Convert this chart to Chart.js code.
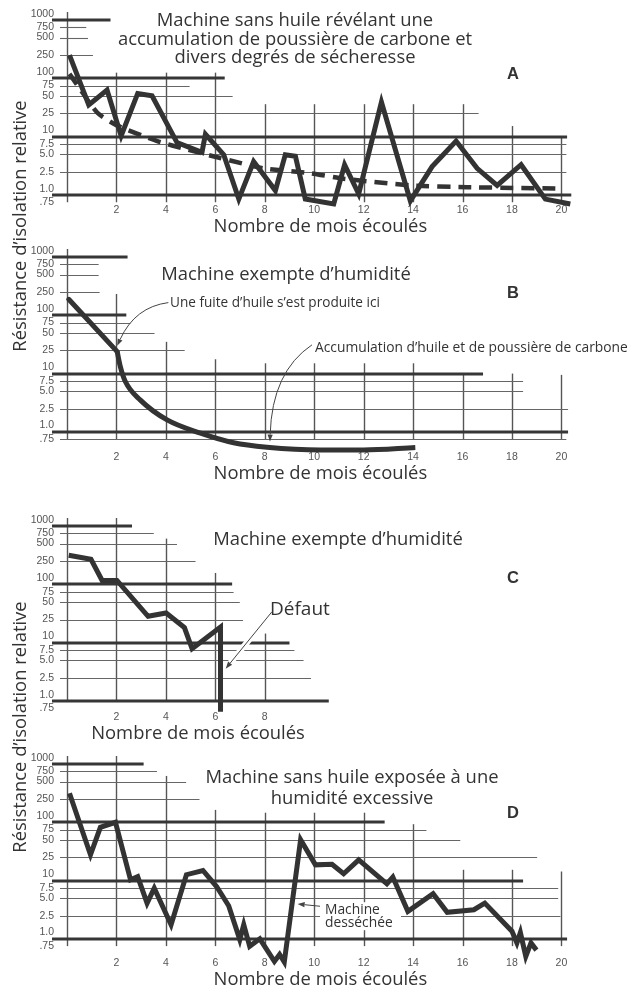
<!DOCTYPE html>
<html lang="fr">
<head>
<meta charset="utf-8">
<title>Résistance d'isolation relative</title>
<script src="https://cdn.jsdelivr.net/npm/chart.js@4.4.1/dist/chart.umd.min.js"></script>
<style>
  body { margin: 0; background: #fff; }
  #page { position: relative; width: 632px; height: 992px; overflow: hidden;
          font-family: "Open Sans", "Noto Sans", sans-serif; color: #333; }
  #page canvas { position: absolute; left: 0; }
  .lbl { position: absolute; white-space: nowrap; transform: translate(-50%, -50%); text-align: center; }
  .note { position: absolute; white-space: nowrap; transform: translate(0, -50%); }
  .letter { position: absolute; transform: translate(-50%, -50%);
            font-family: "Liberation Sans", Arial, sans-serif; font-weight: bold; font-size: 16.5px; }
  .ytitle { position: absolute; white-space: nowrap; font-size: 18.4px;
            transform: translate(-50%, -50%) rotate(-90deg); }
</style>
</head>
<body>
<div id="page">
  <canvas id="chartA"></canvas>
  <canvas id="chartB"></canvas>
  <canvas id="chartC"></canvas>
  <canvas id="chartD"></canvas>

  <div class="ytitle" style="left:18px;top:226px">Résistance d’isolation relative</div>
  <div class="ytitle" style="left:18px;top:727px">Résistance d’isolation relative</div>

  <div class="lbl" style="left:295px;top:38px;font-size:18.4px;line-height:18.5px">Machine sans huile révélant une<br>accumulation de poussière de carbone et<br>divers degrés de sécheresse</div>
  <div class="letter" style="left:513px;top:73px">A</div>

  <div class="lbl" style="left:286px;top:272px;font-size:18.4px">Machine exempte d’humidité</div>
  <div class="letter" style="left:513px;top:292px">B</div>
  <div class="note" style="left:170px;top:301px;font-size:13.6px">Une fuite d’huile s’est produite ici</div>
  <div class="note" style="left:315px;top:346px;font-size:13.8px">Accumulation d’huile et de poussière de carbone</div>

  <div class="lbl" style="left:338px;top:537px;font-size:18.4px">Machine exempte d’humidité</div>
  <div class="letter" style="left:513px;top:577px">C</div>
  <div class="note" style="left:270px;top:608px;font-size:19px">Défaut</div>

  <div class="lbl" style="left:352px;top:786px;font-size:18.4px;line-height:20.5px">Machine sans huile exposée à une<br>humidité excessive</div>
  <div class="letter" style="left:513px;top:812px">D</div>
  <div class="note" style="left:320px;top:916px;font-size:13.8px;line-height:12.8px;background:#fff;padding:1px 8px 1px 5px">Machine<br>desséchée</div>
</div>

<script>
// shared axes
var yTicks = [1000, 750, 500, 250, 100, 75, 50, 25, 10, 7.5, 5, 2.5, 1, 0.75];
var yTickLabels = ['1000', '750', '500', '250', '100', '75', '50', '25', '10', '7.5', '5.0', '2.5', '1.0', '.75'];
var heavyTicks = [1000, 100, 10, 1];
var xTicksLong = [2, 4, 6, 8, 10, 12, 14, 16, 18, 20];
var xTicksShort = [2, 4, 6, 8];
var xAxisTitle = 'Nombre de mois écoulés';

// A - machine sans huile, poussiere de carbone
var monthsA = [0.1, 0.88, 1.62, 2.19, 2.86, 3.44, 4.45, 5.46, 5.6, 6.34, 6.95, 7.55, 8.43, 8.83, 9.24, 9.64,
               10.79, 11.23, 11.8, 12.72, 13.89, 14.77, 15.74, 16.59, 17.4, 18.37, 19.35, 20.36];
var resistA = [250, 35, 63, 10.3, 55, 50, 7.9, 5.4, 11, 4.9, 0.85, 3.75, 1.19, 4.9, 4.6, 0.85,
               0.7, 3.3, 1.04, 39, 0.79, 3.06, 8.4, 2.86, 1.46, 3.3, 0.85, 0.7];
var trendMonthsA = [0.1, 1.22, 2.02, 3.65, 4.86, 6.2, 7.96, 9.85, 11.19, 13.89, 16.18, 19.96];
var trendA = [119, 26, 15.6, 8.4, 6.0, 4.3, 2.86, 2.36, 1.9, 1.46, 1.36, 1.29];

// B - machine exempte d'humidite (fuite d'huile a 2 mois)
var monthsB = [0.07, 2.03, 2.16, 2.36, 2.97, 4.05, 5.4, 6.74, 8.09, 10.25, 12.0, 14.09];
var resistB = [188, 23.8, 13, 7.3, 3.5, 1.6, 0.95, 0.65, 0.545, 0.49, 0.49, 0.54];

// C - machine exempte d'humidite (defaut)
var monthsC = [0.07, 0.97, 1.42, 2.02, 3.28, 4.01, 4.75, 5.06, 6.21, 6.21];
var resistC = [315, 269, 117, 117, 28.4, 32.4, 18.2, 7.9, 18.6, 0.66];

// D - humidite excessive
var monthsD = [0.1, 0.95, 1.35, 1.96, 2.57, 2.86, 3.24, 3.53, 4.21, 4.83, 5.5, 6.05, 6.54, 6.99, 7.15, 7.39,
               7.8, 8.39, 8.6, 8.79, 9.45, 10.05, 10.72, 11.19, 11.8, 12.94, 13.18, 13.79, 14.81, 15.38,
               16.46, 16.9, 18.0, 18.2, 18.34, 18.56, 18.77, 18.99];
var resistD = [315, 27.7, 82, 100, 10.3, 11.7, 4.1, 7.4, 1.75, 12.6, 14.9, 7.9, 3.7, 0.97, 1.75, 0.745,
               1.0, 0.41, 0.54, 0.4, 50, 18.6, 19, 13.1, 22.7, 8.8, 11.5, 2.96, 5.95, 2.85,
               3.16, 4.1, 1.35, 0.85, 1.28, 0.5, 0.85, 0.64];

// paper grid: where each printed horizontal line stops (month), top of each vertical line (value)
var hEndsA = [1.76, 0.78, 0.85, 1.05, 6.38, 4.96, 6.7, 16.65, 20.23, 20.2, 20.2, 20.2, 20.4, null];
var vTopsA = [null, 125, 125, 125, 36, 36, 36, 36, 36, 15.2, 10];
var hEndsB = [2.45, 1.28, 1.28, 1.32, 2.4, 2.56, 3.54, 4.76, 16.83, 18.45, 18.45, 20.27, 20.27, 20.2];
var vTopsB = [null, 232, 35, 17.6, 15, 15, 15, 15, 10, 10, 9.5];
var hEndsC = [2.63, 3.51, 4.45, 5.2, 6.68, 6.74, 6.99, 7.12, 9.0, 9.2, 9.57, 9.87, 10.59, null];
var vTopsC = [null, null, 608, 157, 14.4];
var hEndsD = [3.1, 3.64, 4.82, 5.36, 12.85, 14.54, 15.91, 19.02, 18.45, 19.87, 19.87, 19.96, 20.23, null];
var vTopsD = [null, null, 624, 163, 146, 146, 146, 92.7, 15.3, 15.3, 14.3];

var decadePx = 58.4;   // height of one decade on the page
var monthPx = 24.72;   // width of one month
var ink = '#333';
var textFont = '"Open Sans", "Noto Sans", sans-serif';

function pts(xs, ys) {
  return xs.map(function(x, i) { return {x: x, y: ys[i]}; });
}

function drawArrow(ctx, xs, ys, a) {
  var p0 = [xs.getPixelForValue(a.from[0]), ys.getPixelForValue(a.from[1])];
  var p1 = [xs.getPixelForValue(a.to[0]), ys.getPixelForValue(a.to[1])];
  var c = a.via ? [xs.getPixelForValue(a.via[0]), ys.getPixelForValue(a.via[1])] : null;
  var d = c ? [p1[0] - c[0], p1[1] - c[1]] : [p1[0] - p0[0], p1[1] - p0[1]];
  var len = Math.hypot(d[0], d[1]);
  d = [d[0] / len, d[1] / len];
  var base = [p1[0] - d[0] * 7, p1[1] - d[1] * 7];
  function path() {
    ctx.beginPath();
    ctx.moveTo(p0[0], p0[1]);
    if (c) ctx.quadraticCurveTo(c[0], c[1], base[0], base[1]);
    else ctx.lineTo(base[0], base[1]);
  }
  if (a.halo) {
    path(); ctx.strokeStyle = '#fff'; ctx.lineWidth = 6; ctx.stroke();
  }
  path(); ctx.strokeStyle = '#444'; ctx.lineWidth = 1; ctx.stroke();
  ctx.beginPath();
  ctx.moveTo(p1[0], p1[1]);
  ctx.lineTo(base[0] - d[1] * 2.6, base[1] + d[0] * 2.6);
  ctx.lineTo(base[0] + d[1] * 2.6, base[1] - d[0] * 2.6);
  ctx.closePath();
  ctx.fillStyle = '#444';
  ctx.fill();
}

// draws the uneven printed grid of the original figure
var paperGrid = {
  id: 'paperGrid',
  beforeDatasetsDraw: function(chart, args, opts) {
    var ctx = chart.ctx, xs = chart.scales.x, ys = chart.scales.y, area = chart.chartArea;
    ctx.save();
    opts.vTops.forEach(function(top, i) {
      var x = Math.round(xs.getPixelForValue(i * 2)) + 0.5;
      var y0 = top == null ? area.top : ys.getPixelForValue(top);
      ctx.beginPath();
      ctx.lineWidth = 1.4;
      ctx.strokeStyle = '#555';
      ctx.moveTo(x, y0);
      ctx.lineTo(x, ys.getPixelForValue(opts.vBottom));
      ctx.stroke();
    });
    yTicks.forEach(function(v, i) {
      var end = opts.hEnds[i];
      if (end == null) return;
      var heavy = heavyTicks.indexOf(v) >= 0;
      var y = Math.round(ys.getPixelForValue(v)) + (heavy ? 0 : 0.5);
      ctx.beginPath();
      ctx.lineWidth = heavy ? 2.9 : 1.1;
      ctx.strokeStyle = heavy ? '#363636' : '#666';
      ctx.moveTo(area.left - (heavy ? 15 : 7), y);
      ctx.lineTo(xs.getPixelForValue(end), y);
      ctx.stroke();
    });
    (opts.arrows || []).forEach(function(a) { drawArrow(ctx, xs, ys, a); });
    ctx.restore();
  }
};

function lineSet(data, extra) {
  var ds = {
    data: data, borderColor: ink, borderWidth: 5, pointRadius: 0, fill: false,
    tension: 0, borderJoinStyle: 'miter', clip: false
  };
  for (var k in extra) ds[k] = extra[k];
  return ds;
}

function makePanel(id, cfg) {
  var yMax = 1000 * Math.pow(10, 8 / decadePx);
  var yMin = 1000 / Math.pow(10, (cfg.bottom - cfg.y1000) / decadePx);
  var canvas = document.getElementById(id);
  canvas.width = 632;
  canvas.height = 30 + (cfg.bottom - cfg.y1000 + 8) + 38;
  canvas.style.top = (cfg.y1000 - 8 - 30) + 'px';
  var rightPad = 632 - (67 + cfg.xMax * monthPx);
  var tickFont = {family: '"Liberation Sans", Arial, sans-serif', size: 10.5};

  return new Chart(canvas, {
    type: 'line',
    data: {datasets: cfg.datasets},
    options: {
      responsive: false,
      animation: false,
      devicePixelRatio: 1,
      events: [],
      layout: {padding: {top: 30, bottom: 4, left: 0, right: rightPad}},
      plugins: {
        legend: {display: false},
        tooltip: {enabled: false},
        paperGrid: {hEnds: cfg.hEnds, vTops: cfg.vTops, vBottom: cfg.vBottom, arrows: cfg.arrows}
      },
      scales: {
        x: {
          type: 'linear', min: 0, max: cfg.xMax,
          grid: {display: false, drawTicks: false},
          border: {display: false},
          afterBuildTicks: function(s) { s.ticks = cfg.xTicks.map(function(v) { return {value: v}; }); },
          afterFit: function(s) { s.height = 34; },
          ticks: {padding: 0, maxRotation: 0, autoSkip: false, color: '#555', font: tickFont},
          title: {display: true, text: xAxisTitle, color: ink, padding: 0,
                  font: {family: textFont, size: 18.4}}
        },
        y: {
          type: 'logarithmic', min: yMin, max: yMax,
          grid: {display: false, drawTicks: false},
          border: {display: false},
          afterBuildTicks: function(s) { s.ticks = yTicks.map(function(v) { return {value: v}; }); },
          afterFit: function(s) { s.width = 67; },
          ticks: {
            padding: 13, autoSkip: false, color: '#555', font: tickFont,
            callback: function(v, i) {
              // heavy-line labels sit just above their line
              return heavyTicks.indexOf(yTicks[i]) >= 0 ? [yTickLabels[i], ''] : yTickLabels[i];
            }
          }
        }
      }
    },
    plugins: [paperGrid]
  });
}

makePanel('chartA', {
  y1000: 20, bottom: 204, xMax: 20.5, xTicks: xTicksLong,
  hEnds: hEndsA, vTops: vTopsA, vBottom: 0.75,
  datasets: [
    lineSet(pts(monthsA, resistA)),
    lineSet(pts(trendMonthsA, trendA), {borderWidth: 4.5, borderDash: [13, 8], tension: 0.2})
  ]
});

// B: straight fall until the leak, then a smooth decay
var leakB = 1;
makePanel('chartB', {
  y1000: 257, bottom: 451.4, xMax: 20.5, xTicks: xTicksLong,
  hEnds: hEndsB, vTops: vTopsB, vBottom: 0.75,
  arrows: [
    {from: [4.1, 165], via: [2.75, 139], to: [2.03, 29.9]},
    {from: [9.91, 31.1], via: [8.29, 10.7], to: [8.21, 0.68]}
  ],
  datasets: [
    lineSet(pts(monthsB.slice(0, leakB + 1), resistB.slice(0, leakB + 1)), {borderCapStyle: 'round'}),
    lineSet(pts(monthsB.slice(leakB), resistB.slice(leakB)), {cubicInterpolationMode: 'monotone'})
  ]
});

makePanel('chartC', {
  y1000: 525.7, bottom: 710.7, xMax: 10.6, xTicks: xTicksShort,
  hEnds: hEndsC, vTops: vTopsC, vBottom: 1,
  arrows: [{from: [8.28, 33.6], to: [6.42, 3.61], halo: true}],
  datasets: [lineSet(pts(monthsC, resistC))]
});

makePanel('chartD', {
  y1000: 764, bottom: 957.4, xMax: 20.5, xTicks: xTicksLong,
  hEnds: hEndsD, vTops: vTopsD, vBottom: 0.75,
  arrows: [{from: [10.3, 3.6], to: [9.33, 3.96]}],
  datasets: [lineSet(pts(monthsD, resistD))]
});
</script>
</body>
</html>
